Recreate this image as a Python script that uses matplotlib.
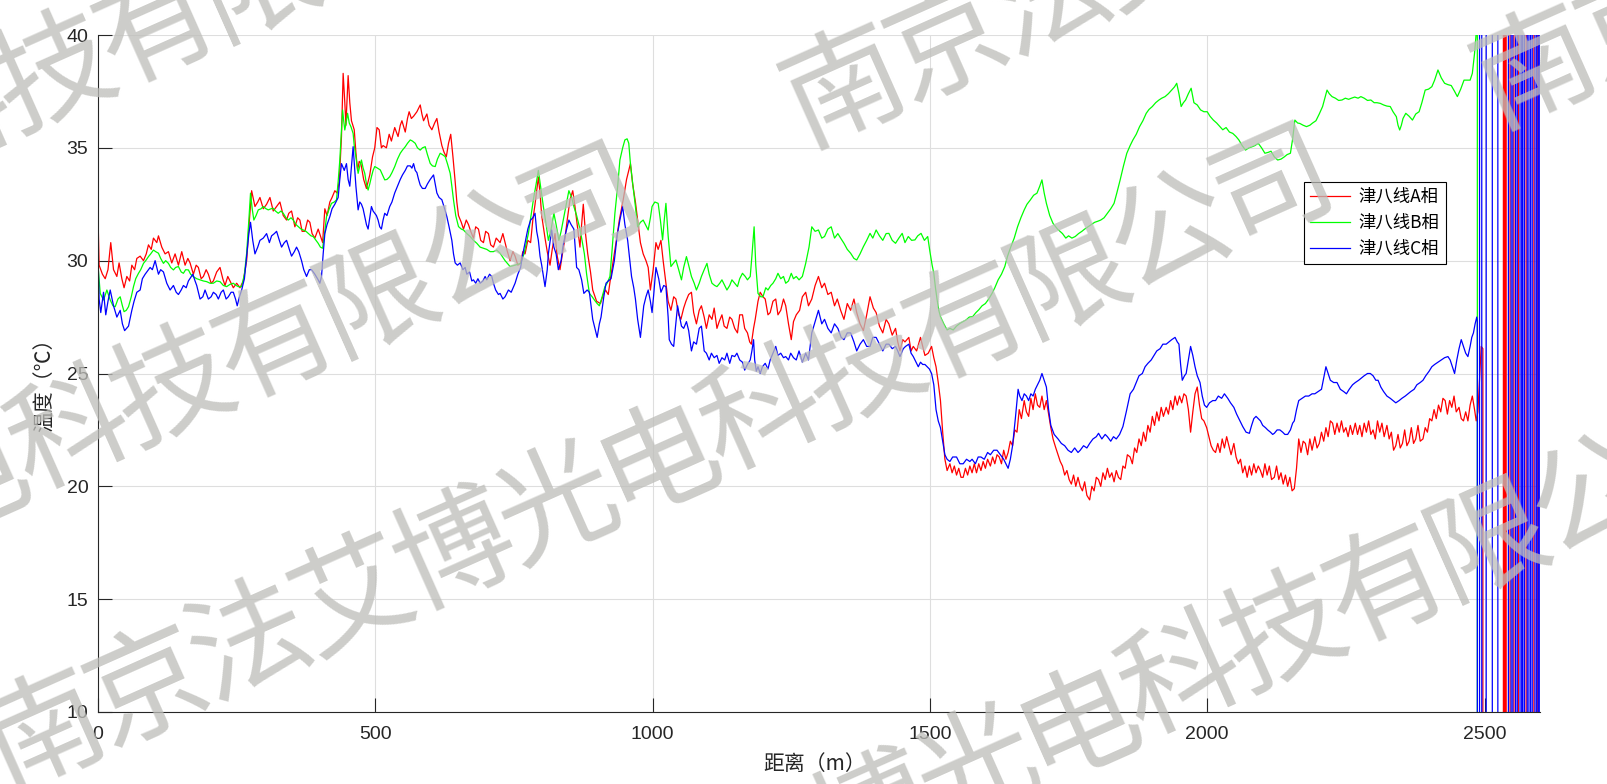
import numpy as np
import matplotlib
matplotlib.use("Agg")
import matplotlib.pyplot as plt
from matplotlib.lines import Line2D

# ---- data (distance m, temperature degC) ----
PHASE_A = [
    (0, 32.0), (2, 29.8), (8, 29.4), (13, 29.2), (18, 29.6), (23, 30.8), (28, 29.6), (34, 29.3), (38, 29.9),
    (43, 29.2), (47, 28.8), (52, 29.3), (57, 29.1), (61, 29.8), (66, 29.6), (70, 30.1), (76, 30.2), (82, 30.0),
    (87, 30.3), (91, 30.7), (96, 30.5), (100, 31.0), (106, 30.8), (109, 31.1), (115, 30.6), (121, 30.3),
    (127, 30.4), (133, 29.9), (139, 30.3), (145, 29.8), (151, 30.4), (157, 29.8), (162, 30.1), (166, 29.9),
    (172, 29.4), (177, 29.8), (181, 29.7), (186, 29.2), (190, 29.3), (195, 29.6), (199, 29.4), (204, 29.0),
    (208, 29.1), (214, 29.5), (220, 29.7), (225, 29.2), (229, 28.9), (234, 29.3), (238, 29.1), (244, 28.8),
    (250, 29.0), (256, 28.8), (262, 29.1), (268, 30.0), (273, 31.8), (277, 33.1), (283, 32.4), (288, 32.6),
    (292, 32.8), (298, 32.3), (304, 32.5), (310, 32.8), (316, 32.2), (322, 32.4), (328, 32.6), (334, 32.0),
    (340, 31.8), (344, 32.1), (349, 32.2), (355, 31.5), (360, 31.9), (364, 31.8), (368, 31.3), (373, 31.3),
    (378, 31.8), (382, 31.7), (386, 31.2), (391, 31.0), (397, 31.4), (401, 31.1), (405, 30.8), (409, 32.3),
    (413, 32.0), (418, 32.6), (422, 32.8), (427, 33.1), (431, 33.0), (435, 33.5), (439, 35.5), (442, 38.3),
    (445, 37.0), (447, 36.0), (451, 38.2), (454, 37.0), (457, 36.2), (462, 35.8), (465, 34.8), (468, 34.0),
    (471, 34.4), (474, 34.3), (479, 33.6), (484, 33.2), (490, 33.8), (495, 34.6), (499, 35.0), (503, 35.9),
    (507, 35.8), (511, 35.0), (514, 35.1), (520, 35.0), (525, 35.6), (529, 35.3), (535, 35.9), (541, 35.5),
    (545, 36.0), (548, 36.2), (554, 35.7), (558, 36.3), (561, 36.6), (565, 36.3), (569, 36.4), (575, 36.6),
    (581, 36.9), (584, 36.5), (587, 36.2), (593, 36.5), (597, 36.0), (602, 35.8), (607, 36.1), (611, 36.3),
    (615, 35.7), (620, 35.1), (624, 34.8), (628, 34.6), (632, 35.2), (636, 35.6), (640, 34.6), (644, 33.5),
    (647, 32.6), (650, 32.0), (655, 31.7), (659, 31.4), (664, 31.8), (668, 31.6), (672, 31.3), (677, 31.0),
    (681, 31.5), (686, 31.4), (690, 30.9), (695, 30.8), (699, 31.3), (704, 31.2), (708, 30.7), (713, 30.6),
    (718, 31.0), (725, 30.8), (730, 31.2), (737, 30.5), (743, 30.0), (748, 30.4), (752, 30.2), (757, 29.8),
    (762, 29.9), (766, 30.4), (770, 30.3), (775, 30.9), (780, 30.8), (784, 31.8), (788, 32.5), (794, 33.7),
    (797, 33.0), (800, 32.0), (806, 31.0), (810, 30.4), (815, 29.8), (819, 30.5), (824, 31.2), (828, 30.2),
    (833, 29.6), (838, 30.4), (842, 31.0), (846, 31.8), (851, 32.7), (856, 33.1), (860, 32.4), (863, 31.8),
    (869, 30.6), (872, 31.6), (875, 32.5), (879, 31.2), (883, 30.3), (888, 29.5), (892, 28.7), (899, 28.2),
    (906, 28.1), (911, 28.5), (915, 28.7), (920, 28.5), (924, 29.2), (929, 30.0), (934, 30.8), (940, 31.8),
    (947, 32.7), (953, 33.6), (960, 34.3), (964, 33.4), (969, 32.6), (973, 31.8), (978, 30.8), (983, 30.3),
    (988, 30.0), (992, 29.7), (996, 28.7), (1001, 29.6), (1006, 30.8), (1010, 30.5), (1015, 30.9),
    (1019, 30.0), (1024, 29.0), (1028, 28.2), (1033, 27.8), (1038, 28.4), (1042, 28.3), (1047, 27.6),
    (1051, 27.4), (1056, 27.9), (1060, 28.2), (1065, 28.5), (1070, 28.6), (1074, 27.7), (1079, 27.2),
    (1084, 27.8), (1088, 28.0), (1093, 27.5), (1097, 27.0), (1102, 27.6), (1107, 27.4), (1111, 27.9),
    (1116, 27.0), (1120, 27.3), (1125, 27.6), (1129, 27.1), (1134, 27.0), (1139, 27.5), (1143, 27.4),
    (1148, 27.0), (1153, 26.8), (1157, 27.6), (1162, 27.6), (1166, 27.0), (1171, 26.8), (1175, 26.4),
    (1178, 26.3), (1182, 27.0), (1185, 27.4), (1190, 28.2), (1194, 28.6), (1199, 28.4), (1203, 28.3),
    (1208, 27.6), (1212, 27.7), (1217, 28.2), (1222, 28.3), (1226, 27.6), (1231, 27.8), (1236, 28.3),
    (1240, 28.0), (1245, 27.2), (1250, 26.5), (1254, 27.3), (1259, 27.6), (1265, 27.8), (1270, 28.4),
    (1276, 28.6), (1281, 28.0), (1287, 28.3), (1293, 28.9), (1299, 29.3), (1305, 28.8), (1310, 29.0),
    (1316, 28.5), (1322, 28.6), (1328, 28.0), (1333, 28.3), (1339, 27.8), (1345, 27.4), (1351, 28.1),
    (1357, 27.8), (1363, 28.3), (1368, 27.7), (1374, 27.2), (1380, 26.9), (1386, 27.6), (1392, 28.4),
    (1398, 27.9), (1403, 27.7), (1409, 27.1), (1415, 26.8), (1421, 27.4), (1426, 27.2), (1432, 26.7),
    (1438, 27.0), (1442, 26.4), (1446, 26.0), (1451, 26.5), (1455, 26.4), (1462, 26.6), (1466, 26.0),
    (1470, 26.2), (1476, 26.0), (1483, 26.6), (1487, 26.2), (1491, 25.8), (1497, 25.9), (1503, 26.2),
    (1507, 25.7), (1511, 25.3), (1515, 24.6), (1519, 23.8), (1523, 22.4), (1527, 21.2), (1531, 20.7),
    (1536, 21.0), (1540, 20.6), (1544, 20.9), (1548, 20.5), (1552, 20.8), (1556, 20.4), (1560, 20.4),
    (1564, 20.8), (1568, 20.5), (1572, 20.9), (1576, 20.6), (1580, 21.0), (1584, 20.6), (1588, 21.0),
    (1592, 20.7), (1596, 21.1), (1600, 20.8), (1604, 21.2), (1609, 20.9), (1613, 21.3), (1617, 21.0),
    (1621, 21.4), (1625, 21.3), (1629, 21.0), (1633, 21.6), (1637, 21.2), (1641, 21.5), (1645, 22.0),
    (1649, 21.8), (1653, 22.5), (1657, 22.4), (1661, 23.4), (1665, 23.0), (1670, 23.8), (1674, 23.3),
    (1678, 23.1), (1682, 23.9), (1686, 23.4), (1690, 24.1), (1694, 23.6), (1698, 23.5), (1702, 24.0),
    (1706, 23.4), (1710, 23.8), (1714, 23.2), (1718, 22.6), (1722, 22.1), (1727, 21.7), (1731, 21.4),
    (1735, 21.1), (1739, 20.9), (1743, 20.5), (1747, 20.7), (1751, 20.3), (1755, 20.1), (1759, 20.5),
    (1763, 20.0), (1767, 20.4), (1771, 20.0), (1775, 19.8), (1779, 20.2), (1783, 19.6), (1788, 19.4),
    (1792, 20.0), (1796, 19.8), (1800, 20.4), (1804, 20.3), (1808, 20.0), (1812, 20.6), (1816, 20.3),
    (1820, 20.8), (1824, 20.4), (1828, 20.6), (1832, 20.2), (1836, 20.7), (1840, 20.4), (1844, 20.3),
    (1848, 20.9), (1852, 20.8), (1856, 21.4), (1861, 21.3), (1865, 21.0), (1869, 21.7), (1873, 21.5),
    (1877, 22.1), (1881, 21.8), (1885, 22.4), (1889, 22.0), (1893, 22.7), (1897, 22.4), (1901, 23.1),
    (1905, 22.7), (1909, 23.3), (1913, 22.9), (1917, 23.5), (1921, 23.1), (1926, 23.5), (1930, 23.2),
    (1934, 23.8), (1938, 23.4), (1942, 24.0), (1946, 23.6), (1950, 24.0), (1954, 23.7), (1958, 24.1),
    (1962, 24.0), (1966, 23.4), (1970, 22.4), (1974, 23.3), (1978, 24.1), (1982, 24.4), (1986, 23.6),
    (1990, 23.0), (1994, 22.9), (1999, 22.6), (2003, 22.2), (2007, 21.8), (2011, 21.6), (2015, 21.5),
    (2019, 21.9), (2023, 21.5), (2027, 22.1), (2031, 21.7), (2035, 22.2), (2039, 21.8), (2043, 21.4),
    (2048, 21.9), (2052, 21.3), (2056, 21.0), (2060, 21.2), (2064, 20.6), (2068, 20.9), (2072, 20.4),
    (2076, 20.9), (2080, 20.5), (2084, 21.0), (2088, 20.6), (2092, 20.9), (2096, 20.7), (2100, 20.4),
    (2104, 21.0), (2108, 20.5), (2112, 20.9), (2116, 20.3), (2121, 20.4), (2125, 20.9), (2129, 20.3),
    (2133, 20.6), (2137, 20.1), (2141, 20.5), (2145, 20.0), (2149, 20.4), (2153, 19.8), (2157, 19.9),
    (2161, 20.8), (2165, 22.1), (2169, 21.5), (2173, 22.0), (2177, 21.9), (2181, 21.4), (2185, 22.1),
    (2189, 21.6), (2194, 22.2), (2198, 21.7), (2202, 21.9), (2206, 22.4), (2210, 22.0), (2214, 22.6),
    (2218, 22.2), (2222, 22.9), (2226, 22.8), (2230, 22.3), (2234, 22.8), (2238, 22.4), (2242, 22.9),
    (2246, 22.4), (2250, 22.6), (2254, 22.2), (2258, 22.7), (2262, 22.3), (2267, 22.8), (2271, 22.3),
    (2275, 22.7), (2279, 22.2), (2283, 22.8), (2287, 22.4), (2291, 22.9), (2295, 22.3), (2299, 22.5),
    (2303, 22.1), (2307, 22.9), (2311, 22.4), (2315, 22.8), (2319, 22.2), (2324, 22.7), (2328, 22.1),
    (2332, 22.4), (2336, 21.6), (2340, 21.8), (2344, 22.3), (2348, 21.7), (2352, 21.9), (2356, 22.5),
    (2360, 21.8), (2364, 22.0), (2368, 22.6), (2372, 21.9), (2376, 22.1), (2380, 22.7), (2384, 22.0),
    (2389, 22.1), (2393, 22.6), (2397, 22.4), (2401, 23.0), (2405, 22.9), (2409, 23.4), (2413, 23.0),
    (2417, 23.6), (2421, 23.3), (2425, 23.9), (2429, 23.8), (2433, 23.2), (2437, 23.8), (2441, 23.5),
    (2445, 24.0), (2449, 23.3), (2454, 23.5), (2458, 23.0), (2462, 22.9), (2466, 23.3), (2470, 22.9),
    (2474, 23.6), (2478, 24.0), (2482, 23.4), (2485, 22.9), (2488, 23.3), (2491, 24.8), (2494, 26.2),
    (2497, 26.1),
]

PHASE_B = [
    (0, 29.8), (4, 28.55), (10, 28.26), (16, 28.7), (22, 28.26), (27, 28.0), (31, 27.96), (36, 28.3),
    (40, 28.4), (44, 28.0), (47, 27.74), (51, 27.8), (55, 27.96), (60, 28.4), (64, 28.85), (68, 29.2),
    (73, 29.44), (77, 29.6), (82, 29.88), (86, 30.0), (91, 30.18), (95, 30.3), (100, 30.47), (104, 30.4),
    (109, 30.33), (113, 30.1), (118, 29.88), (122, 30.0), (127, 29.88), (131, 29.7), (136, 29.59),
    (140, 29.7), (145, 29.74), (150, 29.5), (154, 29.44), (158, 29.6), (163, 29.59), (167, 29.4),
    (172, 29.29), (178, 29.2), (184, 29.15), (190, 29.1), (196, 29.07), (202, 29.0), (208, 29.0),
    (214, 29.1), (220, 29.07), (226, 28.9), (232, 28.85), (238, 28.95), (244, 29.0), (249, 28.9),
    (253, 28.85), (259, 28.85), (264, 29.4), (268, 30.33), (272, 31.8), (275, 32.99), (278, 32.3),
    (281, 31.8), (285, 32.0), (289, 32.25), (294, 32.3), (298, 32.4), (303, 32.3), (307, 32.25),
    (312, 32.3), (316, 32.32), (320, 32.2), (325, 32.1), (330, 32.2), (334, 32.1), (339, 31.9),
    (343, 31.8), (348, 31.9), (352, 31.8), (357, 31.6), (361, 31.51), (366, 31.4), (370, 31.36),
    (375, 31.3), (379, 31.21), (384, 31.1), (388, 31.07), (393, 30.9), (397, 30.77), (401, 30.6),
    (405, 30.55), (409, 31.3), (412, 31.95), (417, 32.3), (421, 32.54), (426, 32.6), (430, 32.69),
    (433, 33.5), (436, 34.46), (439, 35.8), (441, 36.68), (443, 36.2), (445, 35.79), (448, 36.2),
    (450, 36.53), (453, 36.1), (456, 35.94), (460, 35.64), (462, 35.1), (465, 34.61), (469, 33.87),
    (472, 34.2), (475, 34.46), (478, 34.1), (481, 33.87), (484, 33.4), (487, 33.13), (490, 33.4),
    (493, 33.72), (496, 34.0), (499, 34.17), (504, 34.1), (509, 34.02), (513, 33.8), (517, 33.58),
    (521, 33.6), (526, 33.72), (530, 33.9), (535, 34.17), (540, 34.5), (545, 34.76), (549, 34.9),
    (554, 35.05), (558, 35.2), (563, 35.35), (567, 35.3), (572, 35.2), (576, 35.0), (581, 34.9),
    (585, 35.0), (590, 35.05), (594, 34.7), (599, 34.31), (603, 34.2), (608, 34.17), (612, 34.5),
    (617, 34.76), (621, 34.7), (626, 34.61), (630, 34.3), (635, 33.87), (638, 33.3), (641, 32.69),
    (645, 32.0), (650, 31.51), (655, 31.4), (659, 31.36), (665, 31.2), (671, 31.07), (677, 30.9),
    (683, 30.77), (689, 30.6), (695, 30.55), (701, 30.5), (707, 30.4), (713, 30.4), (719, 30.47),
    (725, 30.33), (734, 30.0), (743, 29.74), (752, 29.8), (762, 29.88), (768, 30.3), (776, 31.2),
    (785, 32.7), (790, 33.4), (794, 34.0), (798, 33.3), (803, 32.4), (808, 31.6), (812, 30.9),
    (817, 31.4), (822, 32.1), (826, 31.6), (831, 30.9), (835, 31.3), (840, 31.95), (845, 32.6),
    (849, 33.1), (854, 32.8), (858, 32.4), (863, 32.0), (868, 31.5), (872, 31.0), (877, 30.3),
    (881, 29.4), (886, 28.55), (891, 28.4), (895, 28.26), (900, 28.1), (904, 28.0), (909, 28.4),
    (914, 28.85), (918, 29.0), (923, 29.3), (927, 30.5), (932, 32.1), (937, 33.3), (941, 34.46),
    (946, 35.0), (950, 35.35), (954, 35.4), (957, 35.2), (960, 34.3), (964, 33.43), (969, 32.4),
    (973, 31.5), (978, 31.7), (983, 31.8), (987, 31.6), (992, 31.36), (996, 31.9), (999, 32.4),
    (1004, 32.6), (1010, 32.54), (1014, 31.8), (1018, 30.92), (1021, 31.8), (1024, 32.54), (1028, 31.1),
    (1033, 29.74), (1038, 29.9), (1042, 30.03), (1047, 29.6), (1052, 29.15), (1056, 29.7), (1061, 30.18),
    (1065, 29.8), (1070, 29.3), (1075, 29.0), (1079, 28.7), (1084, 29.0), (1088, 29.3), (1093, 29.6),
    (1098, 29.88), (1102, 29.4), (1107, 29.0), (1112, 28.9), (1116, 28.85), (1121, 29.0), (1125, 29.15),
    (1130, 28.9), (1134, 28.7), (1139, 28.9), (1143, 29.15), (1148, 29.0), (1153, 28.85), (1157, 29.2),
    (1162, 29.44), (1167, 29.3), (1171, 29.15), (1176, 29.3), (1179, 30.2), (1183, 31.5), (1186, 29.8),
    (1190, 28.55), (1195, 28.4), (1199, 28.4), (1204, 28.8), (1208, 28.7), (1213, 28.9), (1217, 29.0),
    (1222, 29.2), (1226, 29.44), (1231, 29.2), (1236, 29.3), (1240, 29.0), (1245, 29.1), (1250, 29.44),
    (1254, 29.2), (1259, 29.3), (1264, 29.15), (1270, 29.3), (1276, 29.88), (1282, 30.6), (1287, 31.5),
    (1293, 31.3), (1299, 31.36), (1305, 31.0), (1310, 31.07), (1316, 31.4), (1322, 31.5), (1328, 31.0),
    (1334, 31.2), (1339, 31.0), (1345, 30.77), (1351, 30.5), (1357, 30.33), (1363, 30.1), (1368, 30.03),
    (1374, 30.3), (1380, 30.62), (1386, 30.9), (1392, 31.21), (1397, 31.0), (1403, 31.36), (1409, 31.1),
    (1415, 30.9), (1421, 31.2), (1426, 31.21), (1432, 30.9), (1438, 30.77), (1444, 31.0), (1450, 31.21),
    (1455, 30.8), (1461, 31.07), (1467, 30.9), (1473, 30.92), (1478, 31.1), (1484, 31.21), (1490, 30.9),
    (1496, 31.07), (1500, 30.4), (1504, 29.8), (1507, 29.44), (1510, 28.8), (1513, 28.26), (1516, 27.8),
    (1519, 27.52), (1525, 27.2), (1531, 26.93), (1536, 27.0), (1542, 26.93), (1548, 27.1), (1554, 27.22),
    (1560, 27.3), (1565, 27.37), (1571, 27.5), (1577, 27.52), (1583, 27.7), (1588, 27.82), (1594, 28.0),
    (1600, 28.1), (1606, 28.3), (1612, 28.55), (1617, 28.8), (1623, 29.15), (1629, 29.4), (1635, 29.74),
    (1640, 30.2), (1646, 30.62), (1652, 31.0), (1658, 31.5), (1664, 31.9), (1670, 32.25), (1675, 32.5),
    (1681, 32.69), (1687, 32.9), (1693, 32.99), (1698, 33.3), (1702, 33.58), (1706, 33.0), (1710, 32.54),
    (1716, 32.0), (1722, 31.65), (1730, 31.4), (1739, 31.2), (1745, 31.0), (1750, 31.1), (1756, 31.0),
    (1762, 31.07), (1768, 31.2), (1774, 31.3), (1779, 31.4), (1785, 31.5), (1791, 31.6), (1797, 31.7),
    (1803, 31.75), (1808, 31.8), (1814, 31.9), (1820, 32.1), (1826, 32.3), (1832, 32.54), (1837, 33.0),
    (1843, 33.58), (1849, 34.2), (1855, 34.76), (1861, 35.1), (1866, 35.35), (1872, 35.6), (1878, 35.94),
    (1884, 36.2), (1890, 36.53), (1895, 36.7), (1901, 36.83), (1907, 37.0), (1913, 37.12), (1918, 37.2),
    (1924, 37.27), (1930, 37.4), (1936, 37.56), (1941, 37.7), (1945, 37.86), (1949, 37.4), (1953, 36.83),
    (1957, 37.0), (1961, 37.12), (1966, 37.4), (1971, 37.64), (1976, 37.0), (1982, 36.9), (1988, 36.68),
    (1994, 36.6), (2000, 36.6), (2005, 36.4), (2011, 36.23), (2017, 36.1), (2023, 35.94), (2028, 35.8),
    (2034, 35.9), (2040, 35.7), (2046, 35.64), (2052, 35.5), (2057, 35.35), (2063, 35.1), (2069, 34.9),
    (2075, 35.0), (2081, 35.05), (2086, 35.1), (2092, 35.2), (2098, 35.0), (2104, 34.76), (2110, 34.8),
    (2115, 34.85), (2121, 34.6), (2127, 34.46), (2133, 34.5), (2139, 34.6), (2144, 34.7), (2150, 34.76),
    (2154, 35.4), (2158, 36.23), (2163, 36.1), (2167, 36.08), (2173, 36.0), (2179, 35.94), (2185, 36.0),
    (2190, 36.1), (2196, 36.2), (2202, 36.5), (2208, 36.83), (2212, 37.2), (2216, 37.56), (2220, 37.4),
    (2225, 37.27), (2231, 37.2), (2237, 37.1), (2243, 37.12), (2249, 37.2), (2255, 37.15), (2260, 37.2),
    (2266, 37.25), (2272, 37.2), (2277, 37.27), (2283, 37.2), (2289, 37.1), (2295, 37.12), (2301, 37.0),
    (2306, 37.0), (2312, 36.97), (2318, 36.9), (2324, 36.85), (2330, 36.83), (2335, 36.6), (2341, 36.38),
    (2344, 36.0), (2347, 35.79), (2350, 36.0), (2353, 36.3), (2358, 36.53), (2364, 36.4), (2370, 36.23),
    (2376, 36.5), (2382, 36.6), (2387, 37.0), (2393, 37.56), (2399, 37.6), (2405, 37.71), (2410, 38.0),
    (2416, 38.45), (2422, 38.1), (2428, 37.86), (2434, 37.8), (2440, 37.76), (2446, 37.5), (2451, 37.27),
    (2457, 37.6), (2463, 38.0), (2469, 38.0), (2474, 38.0), (2478, 38.3), (2482, 39.19), (2485, 40.1),
    (2487, 42.0),
]

PHASE_C = [
    (0, 30.25), (2, 28.3), (5, 27.7), (10, 28.6), (14, 27.6), (18, 28.2), (22, 28.7), (28, 28.0), (34, 27.5),
    (40, 27.8), (44, 27.2), (48, 26.9), (55, 27.1), (61, 27.8), (65, 28.2), (70, 28.6), (76, 28.7),
    (80, 29.2), (85, 29.4), (94, 29.7), (98, 29.6), (103, 30.0), (109, 29.4), (113, 29.6), (118, 29.5),
    (124, 29.0), (130, 28.7), (136, 28.9), (141, 28.6), (145, 28.5), (150, 28.7), (154, 28.9), (159, 28.8),
    (163, 29.1), (171, 29.4), (175, 29.1), (178, 28.9), (184, 28.3), (189, 28.4), (193, 28.7), (199, 28.3),
    (204, 28.4), (208, 28.6), (213, 28.5), (217, 28.3), (222, 28.6), (226, 28.7), (231, 28.3), (235, 28.4),
    (240, 28.6), (244, 28.6), (248, 28.3), (251, 28.0), (255, 28.4), (259, 28.7), (264, 29.2), (268, 30.2),
    (272, 31.2), (275, 31.7), (279, 30.9), (283, 30.3), (288, 30.6), (292, 30.9), (298, 31.0), (304, 31.2),
    (309, 30.8), (313, 31.1), (318, 31.2), (322, 31.3), (327, 30.9), (331, 30.6), (336, 30.8), (340, 30.9),
    (345, 30.5), (349, 30.2), (354, 30.4), (358, 30.6), (362, 30.4), (367, 30.0), (371, 29.6), (376, 29.3),
    (381, 29.6), (385, 29.6), (391, 29.4), (397, 29.15), (400, 29.0), (403, 29.3), (406, 30.3), (409, 31.2),
    (413, 31.6), (418, 31.95), (422, 32.3), (427, 32.5), (433, 32.8), (436, 33.6), (439, 34.3), (444, 34.0),
    (448, 34.3), (451, 33.6), (454, 33.3), (457, 34.2), (460, 35.05), (463, 34.0), (465, 33.3), (469, 32.25),
    (472, 32.6), (475, 32.5), (478, 32.3), (481, 31.95), (484, 31.6), (487, 31.4), (490, 31.9), (493, 32.4),
    (496, 32.2), (499, 32.1), (502, 32.0), (505, 31.8), (508, 31.5), (511, 31.4), (514, 31.8), (517, 32.1),
    (521, 32.0), (526, 32.4), (530, 32.6), (535, 33.0), (540, 33.3), (545, 33.6), (549, 33.8), (554, 34.0),
    (558, 34.2), (563, 34.2), (566, 34.1), (569, 34.3), (572, 34.0), (575, 33.9), (578, 33.6), (581, 33.35),
    (585, 33.2), (590, 33.2), (594, 33.4), (599, 33.6), (602, 33.7), (605, 33.8), (608, 33.4), (611, 33.0),
    (615, 32.8), (620, 32.7), (625, 32.3), (629, 31.95), (633, 31.5), (638, 30.9), (641, 30.3), (644, 29.9),
    (648, 29.8), (653, 29.9), (658, 29.6), (662, 29.7), (665, 29.4), (670, 29.5), (674, 29.1), (677, 29.15),
    (681, 29.0), (685, 29.2), (689, 29.0), (694, 29.1), (698, 29.3), (701, 29.15), (706, 29.4), (710, 29.3),
    (713, 29.0), (717, 28.7), (722, 28.5), (725, 28.55), (730, 28.3), (734, 28.4), (740, 28.7), (745, 28.6),
    (752, 29.0), (757, 29.4), (762, 29.7), (766, 30.3), (771, 30.9), (775, 31.4), (780, 31.8), (784, 31.9),
    (788, 32.1), (791, 31.3), (794, 30.9), (797, 30.2), (800, 29.8), (806, 28.85), (810, 29.6), (812, 30.3),
    (818, 31.36), (822, 30.6), (826, 30.3), (830, 29.6), (835, 30.0), (838, 30.6), (843, 31.2), (849, 31.8),
    (853, 31.6), (858, 31.4), (863, 29.7), (867, 29.6), (872, 29.15), (876, 28.55), (882, 28.7), (886, 28.6),
    (892, 27.4), (896, 27.0), (900, 26.6), (904, 27.2), (907, 27.5), (912, 28.4), (916, 29.0), (920, 29.1),
    (925, 29.2), (931, 30.0), (936, 31.1), (941, 31.8), (946, 32.4), (950, 31.6), (955, 30.9), (959, 30.0),
    (962, 29.3), (966, 28.8), (969, 28.3), (973, 27.4), (978, 26.6), (981, 27.3), (984, 28.0), (988, 28.4),
    (992, 28.7), (996, 28.2), (999, 27.7), (1002, 28.5), (1006, 29.7), (1011, 29.2), (1015, 28.6),
    (1020, 28.9), (1024, 28.85), (1028, 27.5), (1030, 26.5), (1034, 26.3), (1038, 26.2), (1041, 27.0),
    (1045, 28.0), (1048, 27.6), (1052, 27.1), (1056, 27.0), (1061, 27.3), (1065, 26.9), (1070, 26.0),
    (1074, 26.4), (1079, 26.3), (1084, 27.0), (1088, 27.1), (1093, 26.0), (1097, 25.9), (1102, 25.6),
    (1106, 25.9), (1111, 25.7), (1116, 25.8), (1120, 25.45), (1125, 25.7), (1130, 25.6), (1134, 25.9),
    (1139, 25.45), (1143, 25.8), (1148, 25.75), (1152, 25.9), (1157, 25.6), (1162, 25.5), (1166, 25.15),
    (1171, 25.4), (1176, 25.6), (1179, 26.0), (1182, 26.5), (1184, 25.6), (1187, 25.1), (1190, 25.3),
    (1194, 25.0), (1198, 25.3), (1203, 25.45), (1208, 25.2), (1212, 25.6), (1217, 25.9), (1222, 26.2),
    (1226, 25.8), (1231, 25.9), (1236, 25.7), (1240, 25.75), (1245, 25.6), (1249, 25.9), (1254, 25.7),
    (1259, 25.6), (1264, 26.0), (1270, 25.5), (1276, 25.9), (1281, 25.6), (1287, 26.8), (1293, 27.3),
    (1299, 27.8), (1305, 27.2), (1310, 27.4), (1316, 27.0), (1322, 26.8), (1328, 27.2), (1334, 27.0),
    (1340, 26.6), (1345, 26.5), (1351, 26.8), (1357, 26.8), (1363, 26.4), (1368, 26.0), (1374, 26.3),
    (1380, 26.5), (1386, 26.2), (1392, 26.2), (1397, 26.6), (1403, 26.6), (1409, 26.3), (1415, 26.0),
    (1421, 26.3), (1426, 26.3), (1432, 26.1), (1438, 26.2), (1442, 26.0), (1446, 25.75), (1452, 26.1),
    (1456, 26.2), (1462, 26.3), (1466, 25.9), (1470, 25.75), (1475, 25.5), (1479, 25.3), (1483, 25.5),
    (1487, 25.4), (1491, 25.4), (1495, 25.3), (1499, 25.2), (1503, 25.0), (1507, 24.5), (1511, 23.4),
    (1515, 22.9), (1519, 22.6), (1523, 22.0), (1527, 21.4), (1531, 21.2), (1536, 21.1), (1541, 21.3),
    (1548, 21.3), (1554, 21.0), (1560, 21.0), (1566, 21.2), (1572, 21.1), (1576, 21.2), (1582, 21.0),
    (1587, 21.3), (1592, 21.3), (1598, 21.2), (1604, 21.5), (1609, 21.4), (1615, 21.6), (1621, 21.6),
    (1627, 21.4), (1633, 21.2), (1637, 21.0), (1641, 20.8), (1645, 21.2), (1649, 21.8), (1654, 23.0),
    (1659, 24.3), (1662, 24.0), (1666, 23.8), (1670, 24.1), (1674, 24.0), (1678, 23.8), (1682, 24.1),
    (1686, 24.0), (1690, 24.3), (1694, 24.5), (1698, 24.7), (1702, 25.0), (1706, 24.7), (1710, 24.4),
    (1714, 23.4), (1718, 22.7), (1724, 22.3), (1731, 22.1), (1737, 21.9), (1743, 21.8), (1749, 21.6),
    (1755, 21.5), (1761, 21.7), (1767, 21.5), (1771, 21.6), (1777, 21.8), (1783, 21.7), (1788, 21.9),
    (1794, 22.1), (1800, 22.2), (1804, 22.35), (1810, 22.1), (1816, 22.3), (1820, 22.2), (1826, 22.0),
    (1831, 22.2), (1836, 22.1), (1842, 22.3), (1848, 22.65), (1854, 23.3), (1861, 24.1), (1867, 24.3),
    (1872, 24.6), (1877, 24.9), (1883, 25.0), (1888, 25.3), (1893, 25.45), (1899, 25.6), (1904, 25.8),
    (1909, 26.0), (1915, 26.1), (1920, 26.3), (1926, 26.3), (1931, 26.4), (1936, 26.5), (1942, 26.6),
    (1946, 26.4), (1949, 26.3), (1952, 25.4), (1955, 24.7), (1959, 24.9), (1962, 25.0), (1966, 25.6),
    (1970, 26.2), (1974, 25.8), (1978, 25.3), (1982, 24.9), (1987, 24.6), (1991, 24.0), (1995, 23.6),
    (1999, 23.5), (2004, 23.7), (2010, 23.8), (2015, 23.8), (2020, 24.0), (2026, 23.9), (2031, 24.1),
    (2037, 23.9), (2042, 23.7), (2048, 23.5), (2053, 23.2), (2059, 22.9), (2064, 22.65), (2070, 22.4),
    (2076, 22.35), (2080, 22.7), (2084, 23.0), (2088, 23.1), (2092, 23.0), (2096, 22.9), (2100, 22.7),
    (2105, 22.6), (2109, 22.5), (2114, 22.4), (2118, 22.3), (2121, 22.35), (2126, 22.5), (2131, 22.5),
    (2136, 22.4), (2140, 22.3), (2145, 22.3), (2150, 22.5), (2154, 22.8), (2157, 22.9), (2161, 23.4),
    (2165, 23.8), (2171, 23.9), (2177, 24.0), (2183, 24.0), (2189, 24.1), (2194, 24.1), (2200, 24.2),
    (2206, 24.3), (2210, 24.8), (2214, 25.3), (2218, 25.0), (2222, 24.7), (2228, 24.6), (2234, 24.6),
    (2240, 24.3), (2246, 24.2), (2251, 24.1), (2256, 24.3), (2262, 24.5), (2267, 24.6), (2273, 24.7),
    (2278, 24.8), (2283, 24.9), (2289, 25.0), (2294, 25.0), (2299, 24.9), (2304, 24.7), (2308, 24.7),
    (2313, 24.4), (2318, 24.2), (2324, 24.0), (2330, 23.9), (2335, 23.8), (2340, 23.7), (2346, 23.8),
    (2351, 23.9), (2357, 24.0), (2362, 24.1), (2367, 24.2), (2373, 24.3), (2378, 24.5), (2384, 24.6),
    (2389, 24.7), (2394, 24.9), (2400, 25.1), (2405, 25.3), (2410, 25.4), (2416, 25.5), (2422, 25.6),
    (2428, 25.7), (2434, 25.75), (2438, 25.6), (2442, 25.3), (2446, 25.0), (2450, 25.6), (2454, 26.1),
    (2458, 26.5), (2462, 26.2), (2466, 25.9), (2470, 25.75), (2474, 26.2), (2477, 26.6), (2480, 26.8),
    (2483, 27.2), (2486, 27.5), (2487, 27.3),
]

# past the cable end the readings swing off-scale; positions of those swings
A_TAIL = [2497.5, 2534, 2535.5, 2537, 2539, 2546, 2553, 2561, 2575, 2589, 2596]
B_TAIL = [2488]
C_TAIL = [2488.5, 2491, 2495, 2503, 2514, 2524, 2543, 2548, 2551, 2556, 2559, 2564, 2567,
          2569, 2572, 2577, 2580, 2583, 2586, 2591, 2594, 2597, 2599.5]
OFF_LO, OFF_HI = -1000.0, 1000.0

LABELS = ["津八线A相", "津八线B相", "津八线C相"]
COLORS = ["#FF0000", "#00FF00", "#0000FF"]
X_TICKS = [0, 500, 1000, 1500, 2000, 2500]
Y_TICKS = [10, 15, 20, 25, 30, 35, 40]
WM_TEXT = "南京法艾博光电科技有限公司"

CJK = ["Noto Sans CJK SC", "DejaVu Sans"]


def trace(points, tail):
    """Series plus its off-scale swings after the cable end."""
    x, y = map(list, zip(*points))
    level = OFF_LO
    x.append(tail[0]); y.append(level)
    for t in tail[1:]:
        x.append(t); y.append(level)
        level = OFF_HI if level == OFF_LO else OFF_LO
        x.append(t); y.append(level)
    return x, y


def watermark(fig, W=1607, H=784):
    ang, step = 24, 112
    period = 12 * step + 288
    c, s = np.cos(np.radians(ang)), np.sin(np.radians(ang))
    # (index of anchor char, x px, y px from top)
    rows = [(8, 55, 75), (0, 846, 90), (0, 46, 735), (6, 1080, 725)]
    for idx, x0, y0 in rows:
        for k in range(-2, 3):
            for i, ch in enumerate(WM_TEXT):
                d = k * period + (i - idx) * step
                x, y = x0 + d * c, y0 - d * s
                if -80 < x < W + 80 and -80 < y < H + 80:
                    fig.text(x / W, 1 - y / H, ch, family=CJK, fontsize=86,
                             color=(190 / 255, 190 / 255, 186 / 255), alpha=0.77,
                             rotation=ang, rotation_mode="anchor",
                             ha="center", va="center", zorder=20)


fig = plt.figure(figsize=(16.07, 7.84), dpi=100)
ax = fig.add_axes([98 / 1607, 1 - 712 / 784, 1442 / 1607, 677 / 784])

for pts, tail, col, lab in zip([PHASE_A, PHASE_B, PHASE_C], [A_TAIL, B_TAIL, C_TAIL], COLORS, LABELS):
    x, y = trace(pts, tail)
    ax.plot(x, y, color=col, lw=0.9, label=lab)

ax.set_xlim(0, 2600)
ax.set_ylim(10, 40)
ax.set_xticks(X_TICKS)
ax.set_yticks(Y_TICKS)
ax.grid(True, color="#DEDEDE", lw=0.8)
ax.set_axisbelow(True)
for side in ["top", "right"]:
    ax.spines[side].set_visible(False)
for side in ["left", "bottom"]:
    ax.spines[side].set_color("#262626")
    ax.spines[side].set_linewidth(0.8)
ax.tick_params(direction="in", length=10, width=0.8, color="#262626",
               labelcolor="#262626", labelsize=14)
ax.tick_params(axis="x", pad=10)
ax.tick_params(axis="y", pad=7)
for lbl in ax.get_xticklabels() + ax.get_yticklabels():
    lbl.set_family("Liberation Sans")

ax.set_xlabel("距离（m）", family=CJK, fontsize=15, color="#262626")
ax.xaxis.set_label_coords(0.497, -0.077)
ax.xaxis.label.set_va("center")
ax.set_ylabel("温度（℃）", family=CJK, fontsize=15, color="#262626")
ax.yaxis.set_label_coords(-0.037, 0.49)
ax.yaxis.label.set_va("center")

handles = [Line2D([], [], color=c, lw=0.9) for c in COLORS]
leg = ax.legend(handles, LABELS, loc="upper left", bbox_to_anchor=(0.8363, 0.783),
                prop={"family": CJK, "size": 12.5}, frameon=True, fancybox=False,
                edgecolor="black", framealpha=1, borderaxespad=0, handlelength=2.3,
                handletextpad=0.5, labelspacing=0.45, borderpad=0.35)
leg.get_frame().set_linewidth(0.8)

watermark(fig)

fig.savefig("out.png", dpi=100)
